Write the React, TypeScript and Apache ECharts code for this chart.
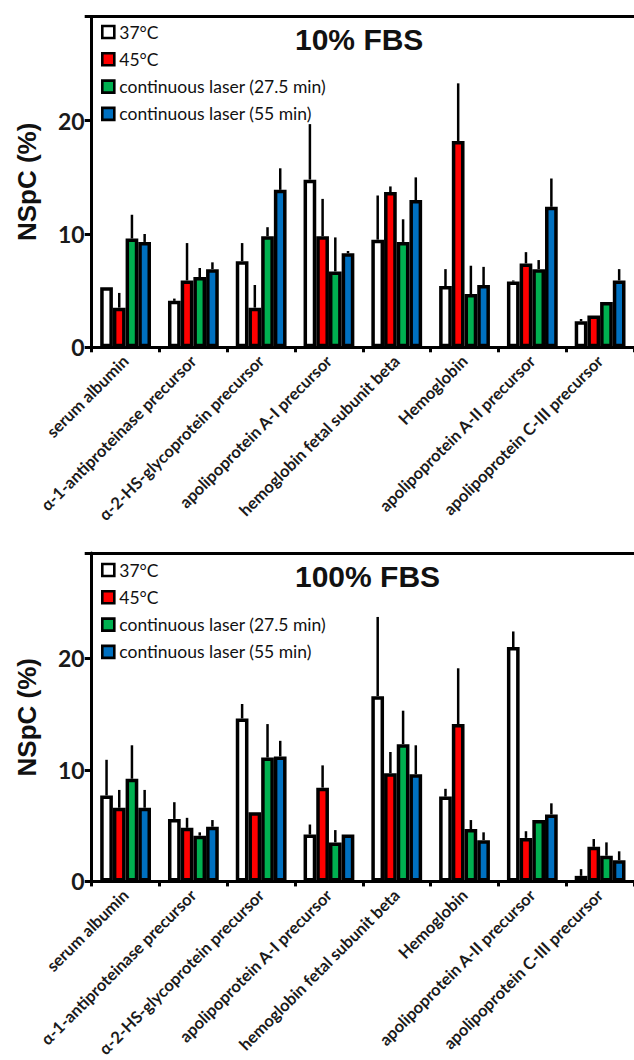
import React, { useEffect, useRef } from "react";
import * as echarts from "echarts";

const categories = [
  "serum albumin",
  "α-1-antiproteinase precursor",
  "α-2-HS-glycoprotein precursor",
  "apolipoprotein A-I precursor",
  "hemoglobin fetal subunit beta",
  "Hemoglobin",
  "apolipoprotein A-II precursor",
  "apolipoprotein C-III precursor",
];

const seriesNames = ["37°C", "45°C", "continuous laser (27.5 min)", "continuous laser (55 min)"];
const colors = ["#ffffff", "#ff0000", "#00b050", "#0070c0"];

// 10% FBS
const fbs10_37 = [5.3, 4.1, 7.6, 14.8, 9.5, 5.4, 5.8, 2.3];
const fbs10_37_sd = [0, 0.2, 1.6, 4.9, 3.9, 1.5, 0.1, 0.2];
const fbs10_45 = [3.5, 5.9, 3.5, 9.8, 13.7, 18.2, 7.4, 2.8];
const fbs10_45_sd = [1.3, 3.3, 2.0, 3.3, 0.5, 5.1, 1.0, 0];
const fbs10_l27 = [9.6, 6.2, 9.8, 6.7, 9.3, 4.7, 6.9, 4.0];
const fbs10_l27_sd = [2.1, 0.8, 0.8, 3.0, 2.0, 2.5, 0.8, 0];
const fbs10_l55 = [9.3, 6.9, 13.9, 8.3, 13.0, 5.5, 12.4, 5.9];
const fbs10_l55_sd = [0.7, 0.6, 1.9, 0.2, 2.0, 1.6, 2.5, 1.0];

// 100% FBS
const fbs100_37 = [7.7, 5.6, 14.6, 4.2, 16.6, 7.6, 21.0, 0.5];
const fbs100_37_sd = [3.2, 1.5, 1.3, 0.9, 7.1, 0.7, 1.4, 0.6];
const fbs100_45 = [6.6, 4.8, 6.2, 8.4, 9.7, 14.1, 3.9, 3.1];
const fbs100_45_sd = [1.6, 0.9, 0, 2.0, 1.9, 5.0, 0.6, 0.7];
const fbs100_l27 = [9.2, 4.1, 11.1, 3.5, 12.3, 4.7, 5.5, 2.3];
const fbs100_l27_sd = [3.0, 0.3, 3.0, 1.1, 3.0, 0.8, 0, 1.2];
const fbs100_l55 = [6.6, 4.9, 11.2, 4.2, 9.6, 3.7, 6.0, 1.9];
const fbs100_l55_sd = [1.6, 0.6, 1.4, 0, 2.6, 0.7, 1.0, 0.8];

const yTicks = [0, 10, 20];
const titles = ["10% FBS", "100% FBS"];

const panels = [
  {
    values: [fbs10_37, fbs10_45, fbs10_l27, fbs10_l55],
    sds: [fbs10_37_sd, fbs10_45_sd, fbs10_l27_sd, fbs10_l55_sd],
  },
  {
    values: [fbs100_37, fbs100_45, fbs100_l27, fbs100_l55],
    sds: [fbs100_37_sd, fbs100_45_sd, fbs100_l27_sd, fbs100_l55_sd],
  },
];

const BAR_W = 12.7;
const LABEL_FONT = "Lato, 'Open Sans', sans-serif";
const HEAD_FONT = "'Liberation Sans', Arial, sans-serif";

export default function App() {
  const ref = useRef<HTMLDivElement>(null);
  useEffect(() => {
    if (!ref.current) return;
    const chart = echarts.init(ref.current, undefined, { renderer: "svg" });

    const gridDefs = [
      { left: 91.7, top: 16.5, width: 542.3, height: 330.8, max: 29.2 },
      { left: 91.7, top: 553, width: 542.3, height: 333.5, max: 29.43 },
    ];

    const grid: any[] = [];
    const xAxis: any[] = [];
    const yAxis: any[] = [];
    const series: any[] = [];
    const legend: any[] = [];
    const title: any[] = [];

    gridDefs.forEach((g, gi) => {
      grid.push({ left: g.left, top: g.top, width: g.width, height: g.height });
      xAxis.push({
        type: "category",
        gridIndex: gi,
        data: categories,
        axisLine: { lineStyle: { color: "#000", width: 3 } },
        axisTick: { show: true, length: 5, lineStyle: { color: "#000", width: 3 } },
        axisLabel: {
          interval: 0,
          rotate: 45,
          margin: 11,
          fontFamily: LABEL_FONT,
          fontWeight: "bold",
          fontSize: 16.5,
          color: "#1a1a1a",
        },
      });
      xAxis.push({
        type: "category",
        gridIndex: gi,
        position: "top",
        data: categories,
        axisLine: { lineStyle: { color: "#000", width: 3 } },
        axisTick: { show: false },
        axisLabel: { show: false },
      });
      yAxis.push({
        type: "value",
        gridIndex: gi,
        min: 0,
        max: g.max,
        interval: 10,
        name: "NSpC (%)",
        nameLocation: "middle",
        nameGap: 52,
        nameTextStyle: {
          fontFamily: HEAD_FONT,
          fontWeight: "bold",
          fontSize: 26,
          color: "#111",
        },
        axisLine: { show: true, lineStyle: { color: "#000", width: 3 } },
        axisTick: { show: true, length: 7, lineStyle: { color: "#000", width: 3 } },
        splitLine: { show: false },
        axisLabel: {
          margin: 7,
          fontFamily: LABEL_FONT,
          fontWeight: "bold",
          fontSize: 23,
          color: "#1a1a1a",
          formatter: (v: number) => (yTicks.includes(v) ? String(v) : ""),
        },
      });

      const p = panels[gi];
      seriesNames.forEach((name, si) => {
        series.push({
          type: "bar",
          name,
          xAxisIndex: gi * 2,
          yAxisIndex: gi,
          barWidth: BAR_W,
          barGap: "0%",
          itemStyle: { color: colors[si], borderColor: "#000", borderWidth: 3.5 },
          data: p.values[si],
          z: 2,
        });
      });

      const errData: any[] = [];
      seriesNames.forEach((_, si) => {
        p.values[si].forEach((v, ci) => {
          const sd = p.sds[si][ci];
          if (sd > 0) errData.push([ci, v, v + sd, si]);
        });
      });
      series.push({
        type: "custom",
        xAxisIndex: gi * 2,
        yAxisIndex: gi,
        z: 3,
        silent: true,
        encode: { x: 0, y: 1 },
        data: errData,
        renderItem: (params: any, api: any) => {
          const ci = api.value(0);
          const v = api.value(1);
          const top = api.value(2);
          const si = api.value(3);
          const p0 = api.coord([ci, v]);
          const p1 = api.coord([ci, top]);
          const x = p0[0] + (si - 1.5) * BAR_W;
          return {
            type: "line",
            shape: { x1: x, y1: p0[1], x2: x, y2: p1[1] },
            style: { stroke: "#000", lineWidth: 2.5 },
          };
        },
      });

      legend.push({
        orient: "vertical",
        left: 96,
        top: gi === 0 ? 18 : 556,
        itemWidth: 12,
        itemHeight: 12,
        itemGap: 9.3,
        icon: "rect",
        selectedMode: false,
        data: seriesNames,
        itemStyle: { borderColor: "#000", borderWidth: 2.6 },
        textStyle: {
          fontFamily: LABEL_FONT,
          fontSize: 17.5,
          lineHeight: 16.5,
          color: "#111",
          padding: [0, 0, 0, 0],
        },
      });

      title.push({
        text: titles[gi],
        left: 290,
        top: gi === 0 ? 19 : 556,
        textStyle: {
          fontFamily: HEAD_FONT,
          fontWeight: "bold",
          fontSize: 30,
          color: "#111",
        },
      });
    });

    chart.setOption({
      animation: false,
      backgroundColor: "#ffffff",
      title,
      legend,
      grid,
      xAxis,
      yAxis,
      series,
    });
    return () => chart.dispose();
  }, []);

  return (
    <div
      ref={ref}
      style={{ position: "absolute", left: 0, top: 0, width: 634, height: 1060, background: "#fff" }}
    />
  );
}
